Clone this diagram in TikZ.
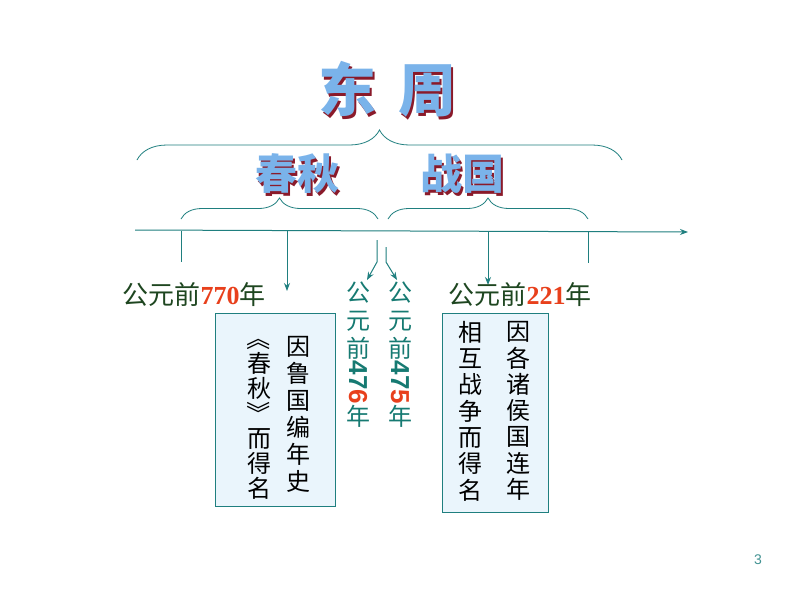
\documentclass[tikz,border=0pt]{standalone}
\usepackage{fontspec}
\setmainfont{Liberation Serif}
\newfontfamily\cjk{Noto Sans CJK SC}
\newfontfamily\arialfont{Liberation Sans}
\usetikzlibrary{decorations.pathreplacing,arrows.meta}
\definecolor{teal1}{HTML}{1F7F7F}
\definecolor{vteal}{HTML}{167A72}
\definecolor{dgreen}{HTML}{1E4620}
\definecolor{ored}{HTML}{E8401C}
\definecolor{tblue}{HTML}{7AB3EA}
\definecolor{tshadow}{HTML}{8A1A2A}
\definecolor{boxfill}{HTML}{EAF5FC}
\newcommand{\shtext}[1]{\makebox[0pt][l]{\kern2.5pt\raisebox{-2.5pt}{\textcolor{tshadow}{#1}}}#1}
\newcommand{\rotbr}[1]{\rotatebox[origin=c]{-90}{#1}}
\begin{document}
\begin{tikzpicture}[x=1pt,y=-1pt,
  axisline/.style={draw=teal1, line width=1pt},
  arr/.style={axisline, -{Stealth[length=8pt,width=6pt]}},
  brc/.style={draw=teal1, line width=0.8pt, decorate, decoration={brace, amplitude=#1}},
  titletext/.style={text=tblue, font=\fontsize{#1}{#1}\selectfont\cjk\bfseries, inner sep=0pt},
  lbl/.style={text=dgreen, font=\fontsize{26}{26}\selectfont\cjk, inner sep=0pt},
  vlbl/.style={text=vteal, font=\fontsize{24}{28}\selectfont\cjk, align=center, inner sep=0pt, anchor=north},
  namebox/.style={draw=teal1, fill=boxfill, line width=0.8pt},
  col/.style={text=black, font=\fontsize{24}{#1}\selectfont\cjk, align=center, inner sep=0pt}
]
\useasboundingbox[fill=white] (0,0) rectangle (800,600);
% title
\node[titletext=58] (dongzhou) at (387,91) {\shtext{东}\hspace{22pt}\shtext{周}};
\node[titletext=42] (chunqiu) at (297,175) {\shtext{春秋}};
\node[titletext=42] (zhanguo) at (462,175) {\shtext{战国}};
% braces
\coordinate (B0) at (137,160); \coordinate (B1) at (622,160);
\draw[brc=30] (B0) -- (B1);
\coordinate (C0) at (181,219); \coordinate (C1) at (378,219);
\draw[brc=21] (C0) -- (C1);
\coordinate (Z0) at (388,219); \coordinate (Z1) at (588,219);
\draw[brc=21] (Z0) -- (Z1);
% axis
\coordinate (A0) at (135,230); \coordinate (A1) at (688,232);
\draw[arr] (A0) -- (A1);
% ticks
\coordinate (T1a) at (181,231); \coordinate (T1b) at (181,262);
\draw[axisline] (T1a) -- (T1b);
\coordinate (T2a) at (588,232); \coordinate (T2b) at (588,263);
\draw[axisline] (T2a) -- (T2b);
% down arrows
\coordinate (D1a) at (287,231); \coordinate (D1b) at (287,291);
\draw[arr] (D1a) -- (D1b);
\coordinate (D2a) at (488,232); \coordinate (D2b) at (488,285);
\draw[arr] (D2a) -- (D2b);
% split arrows
\coordinate (S1a) at (377,240); \coordinate (S1b) at (377,262); \coordinate (S1c) at (367,280);
\draw[arr] (S1a) -- (S1b) -- (S1c);
\coordinate (S2a) at (386,247); \coordinate (S2b) at (386,262); \coordinate (S2c) at (397,280);
\draw[arr] (S2a) -- (S2b) -- (S2c);
% labels
\node[lbl] (l770) at (194,295) {公元前\textcolor{ored}{\rmfamily\bfseries 770}年};
\node[lbl] (l221) at (520,295) {公元前\textcolor{ored}{\rmfamily\bfseries 221}年};
\node[vlbl] (v476) at (358,282) {公\\元\\前\\\rotbr{\fontsize{26}{26}\selectfont\arialfont\bfseries 47\textcolor{ored}{6}}\\年};
\node[vlbl] (v475) at (400,282) {公\\元\\前\\\rotbr{\fontsize{26}{26}\selectfont\arialfont\bfseries 47\textcolor{ored}{5}}\\年};
% boxes
\node[namebox, minimum width=120pt, minimum height=193pt] (box1) at (275,409.5) {};
\node[col=27] (c1r) at (298,414) {因\\鲁\\国\\编\\年\\史};
\node[col=25] (c1l) at (259,413) {\rotbr{《}\\春\\秋\\\rotbr{》}\\而\\得\\名};
\node[namebox, minimum width=106pt, minimum height=199pt] (box2) at (495,412.5) {};
\node[col=26.3] (c2r) at (518,411) {因\\各\\诸\\侯\\国\\连\\年};
\node[col=26.3] (c2l) at (470,411) {相\\互\\战\\争\\而\\得\\名};
% page number
\node[text=teal1!85, font=\fontsize{14}{14}\selectfont\arialfont] (pg) at (758,560) {3};
\end{tikzpicture}
\end{document}
